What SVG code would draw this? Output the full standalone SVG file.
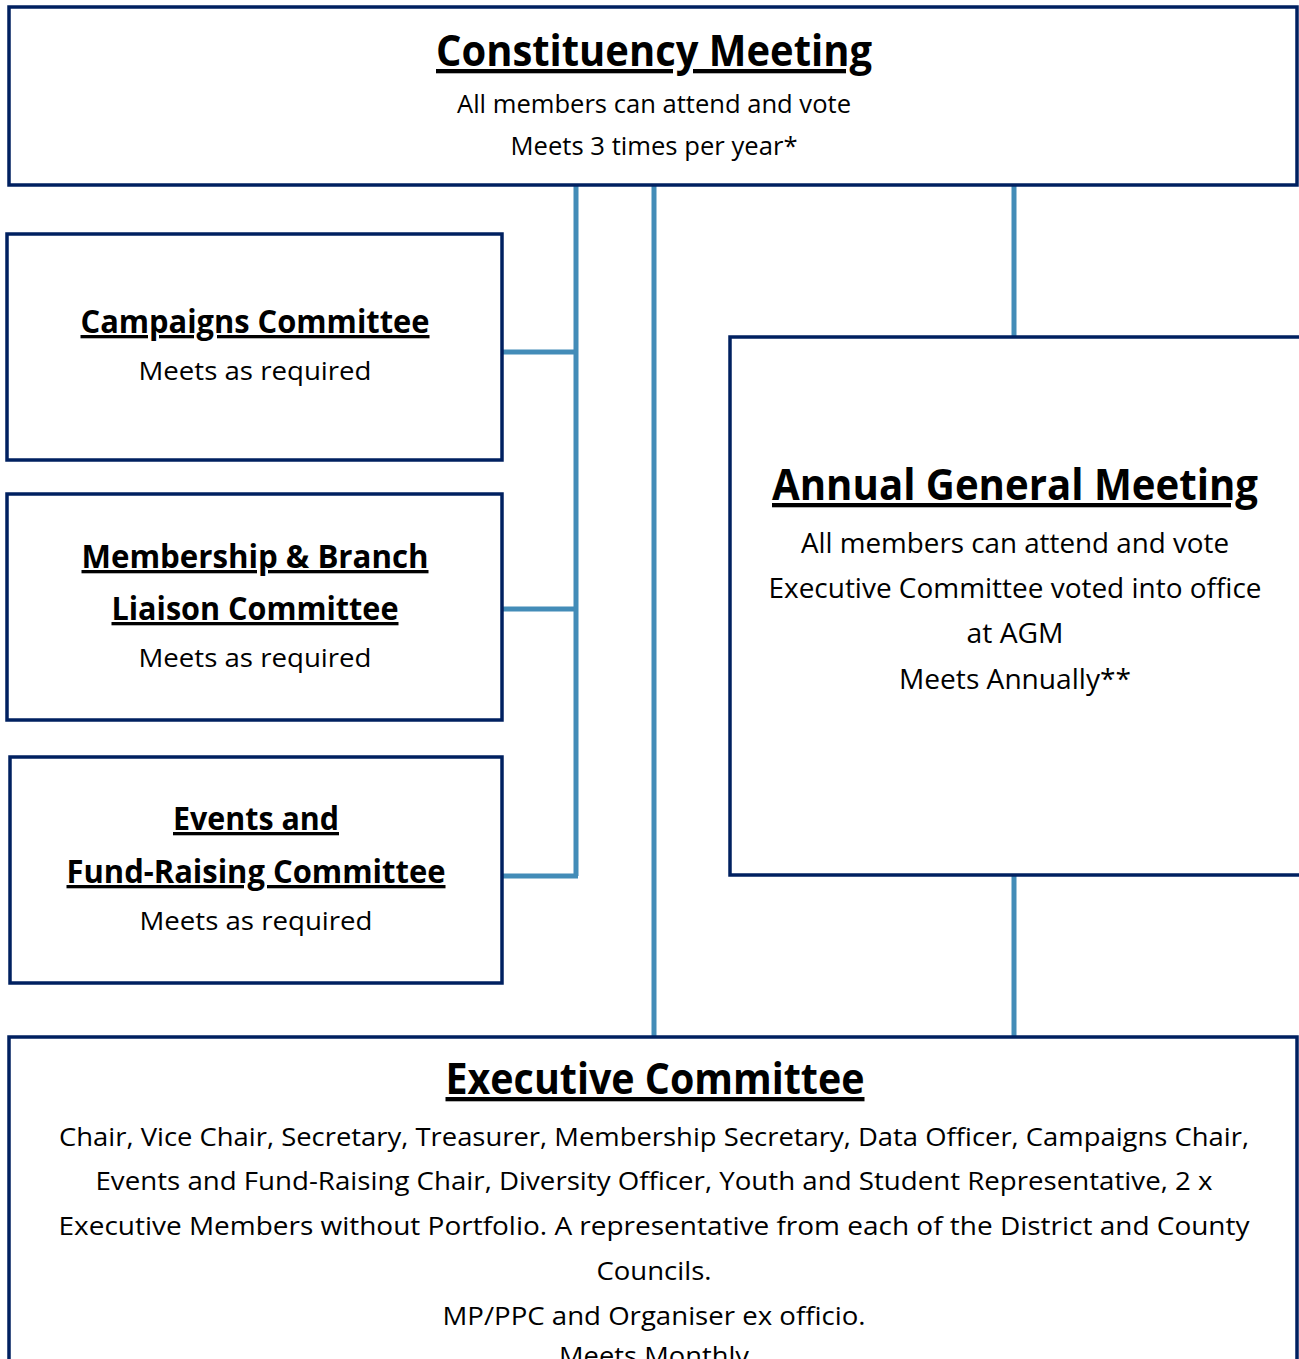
<svg xmlns="http://www.w3.org/2000/svg" width="1299" height="1359" viewBox="0 0 1299 1359">
<style>
.box{fill:#fff;stroke:#002060;stroke-width:3.5}
.conn{stroke:#438CB8;stroke-width:5;fill:none}
text{font-family:"Open Sans","Noto Sans",sans-serif;fill:#000;text-anchor:middle}
.t{font-weight:bold;text-decoration:underline}
.big{font-size:43px}
.mid{font-size:33px}
.b{font-size:26px}
.ba{font-size:28px}
</style>
<rect width="1299" height="1359" fill="#fff"/>
<g id="connectors">
<path class="conn" d="M576 185 V876 M503 352 H576 M503 609 H576 M503 876 H578"/>
<path class="conn" d="M654 185 V1037"/>
<path class="conn" d="M1014 185 V337 M1014 876 V1037"/>
</g>
<g id="constituency">
<rect class="box" x="9" y="7" width="1288" height="178"/>
<text class="t big" x="654" y="66" textLength="436" lengthAdjust="spacingAndGlyphs">Constituency Meeting</text>
<text class="b" x="654" y="113" textLength="394" lengthAdjust="spacingAndGlyphs">All members can attend and vote</text>
<text class="b" x="654" y="155" textLength="287" lengthAdjust="spacingAndGlyphs">Meets 3 times per year*</text>
</g>
<g id="campaigns">
<rect class="box" x="7" y="234" width="495" height="226"/>
<text class="t mid" x="255" y="333" textLength="349" lengthAdjust="spacingAndGlyphs">Campaigns Committee</text>
<text class="b" x="255" y="380" textLength="233" lengthAdjust="spacingAndGlyphs">Meets as required</text>
</g>
<g id="membership">
<rect class="box" x="7" y="494" width="495" height="226"/>
<text class="t mid" x="255" y="568" textLength="347" lengthAdjust="spacingAndGlyphs">Membership &amp; Branch</text>
<text class="t mid" x="255" y="620" textLength="287" lengthAdjust="spacingAndGlyphs">Liaison Committee</text>
<text class="b" x="255" y="667" textLength="233" lengthAdjust="spacingAndGlyphs">Meets as required</text>
</g>
<g id="events">
<rect class="box" x="10" y="757" width="492" height="226"/>
<text class="t mid" x="256" y="830" textLength="166" lengthAdjust="spacingAndGlyphs">Events and</text>
<text class="t mid" x="256" y="883" textLength="379" lengthAdjust="spacingAndGlyphs">Fund-Raising Committee</text>
<text class="b" x="256" y="930" textLength="233" lengthAdjust="spacingAndGlyphs">Meets as required</text>
</g>
<g id="agm">
<rect class="box" x="730" y="337" width="571" height="538"/>
<text class="t big" x="1015" y="500" textLength="486" lengthAdjust="spacingAndGlyphs">Annual General Meeting</text>
<text class="ba" x="1015" y="553" textLength="428" lengthAdjust="spacingAndGlyphs">All members can attend and vote</text>
<text class="ba" x="1015" y="598" textLength="493" lengthAdjust="spacingAndGlyphs">Executive Committee voted into office</text>
<text class="ba" x="1015" y="643" textLength="97" lengthAdjust="spacingAndGlyphs">at AGM</text>
<text class="ba" x="1015" y="689" textLength="232" lengthAdjust="spacingAndGlyphs">Meets Annually**</text>
</g>
<g id="executive">
<rect class="box" x="9" y="1037" width="1288" height="340"/>
<text class="t big" x="655" y="1094" textLength="419" lengthAdjust="spacingAndGlyphs">Executive Committee</text>
<text class="b" x="654" y="1146" textLength="1190" lengthAdjust="spacingAndGlyphs">Chair, Vice Chair, Secretary, Treasurer, Membership Secretary, Data Officer, Campaigns Chair,</text>
<text class="b" x="654" y="1190" textLength="1117" lengthAdjust="spacingAndGlyphs">Events and Fund-Raising Chair, Diversity Officer, Youth and Student Representative, 2 x</text>
<text class="b" x="654" y="1235" textLength="1191" lengthAdjust="spacingAndGlyphs">Executive Members without Portfolio. A representative from each of the District and County</text>
<text class="b" x="654" y="1280" textLength="115" lengthAdjust="spacingAndGlyphs">Councils.</text>
<text class="b" x="654" y="1325" textLength="423" lengthAdjust="spacingAndGlyphs">MP/PPC and Organiser ex officio.</text>
<text class="b" x="654" y="1365" textLength="190" lengthAdjust="spacingAndGlyphs">Meets Monthly</text>
</g>
</svg>
